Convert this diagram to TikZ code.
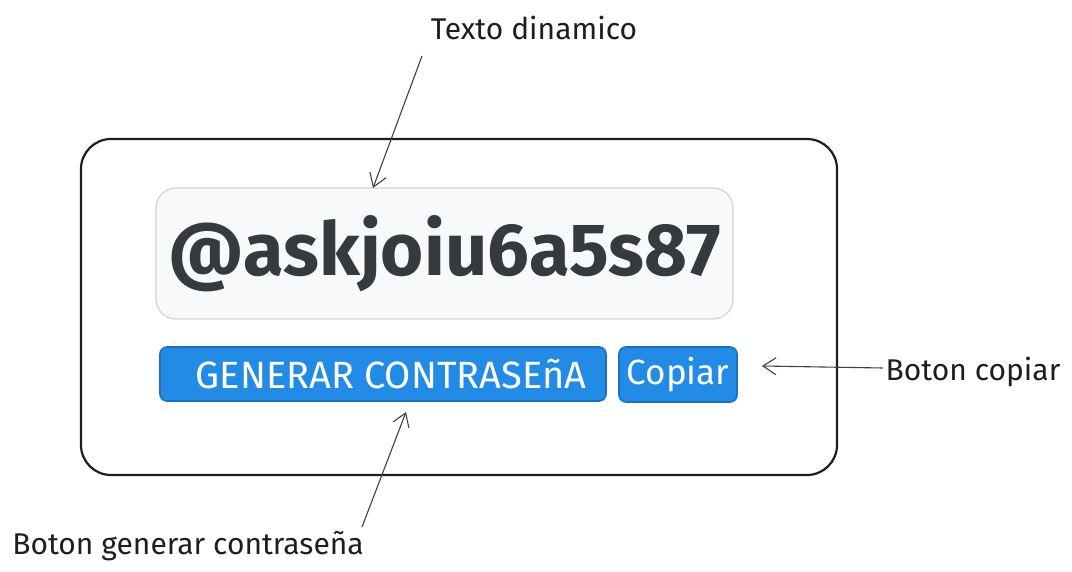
\documentclass[tikz,border=0pt]{standalone}
\usepackage{fontspec}
\setmainfont{Fira Sans}
\usetikzlibrary{arrows.meta}
\definecolor{ink}{HTML}{1E1E1E}
\definecolor{pwgray}{HTML}{343A40}
\definecolor{boxfill}{HTML}{F8F9FA}
\definecolor{boxline}{HTML}{CED4DA}
\definecolor{btnblue}{HTML}{228BE6}
\definecolor{btnline}{HTML}{1971C2}

\begin{document}
\begin{tikzpicture}[x=1pt, y=-1pt, semithick,
    note/.style={font=\fontsize{30}{32}\selectfont, text=ink, inner sep=0pt},
    btn/.style={draw=btnline, fill=btnblue, line width=1.6pt, rounded corners=7pt,
      text=white, inner sep=0pt},
    callout/.style={-{Straight Barb[length=13pt,width=17pt]}, draw=ink!85, line width=1.1pt}]
    \useasboundingbox (0,0) rectangle (1072,572);
    \node [draw=ink, line width=2.2pt, rounded corners=30pt,
      minimum width=756pt, minimum height=336pt] (panel) at (459,307) {};
    \node [draw=boxline, fill=boxfill, line width=1.2pt, rounded corners=20pt,
      minimum width=577pt, minimum height=131pt, text=pwgray,
      font=\fontsize{74}{74}\selectfont\bfseries] (field) at (444.5,253.5) {@askjoiu6a5s87\hspace{6pt}};
    \node [btn, minimum width=446pt, minimum height=54pt,
      font=\fontsize{38}{38}\selectfont] (genbtn) at (383,374) {\hspace{16pt}GENERAR CONTRASEñA};
    \node [btn, minimum width=118pt, minimum height=55pt,
      font=\fontsize{35}{35}\selectfont] (copybtn) at (678,374.5) {Copiar};
    \node [note] (lblTexto) at (534,28) {Texto dinamico};
    \node [note] (lblCopiar) at (973,372) {Boton copiar};
    \node [note] (lblGen) at (188,546) {Boton generar contraseña};
    \coordinate (txtTail) at (422,56);
    \coordinate (txtTip) at (373,188);
    \coordinate (copyTail) at (883,368);
    \coordinate (copyTip) at (762,366);
    \coordinate (genTail) at (362,527);
    \coordinate (genTip) at (406,412);
    \path
    (txtTail) edge [callout] (txtTip)
    (copyTail) edge [callout] (copyTip)
    (genTail) edge [callout] (genTip)
    ;
  \end{tikzpicture}
\end{document}
